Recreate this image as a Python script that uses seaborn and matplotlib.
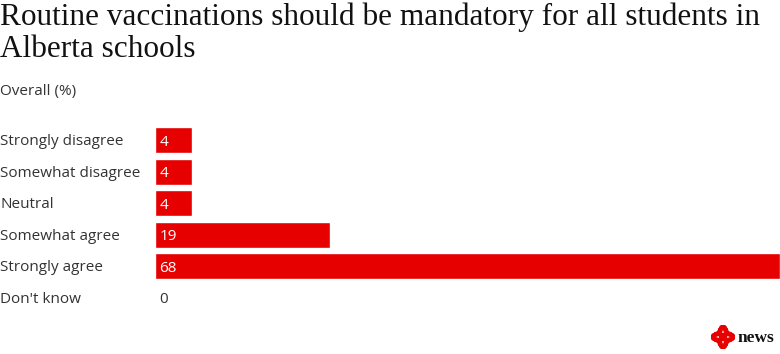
import matplotlib
matplotlib.use("Agg")
import matplotlib.pyplot as plt
import matplotlib.transforms as mtransforms
from matplotlib.patches import Circle, Wedge
import pandas as pd
import seaborn as sns

categories = ["Strongly disagree", "Somewhat disagree", "Neutral",
              "Somewhat agree", "Strongly agree", "Don't know"]
values = [4, 4, 4, 19, 68, 0]

df = pd.DataFrame({"answer": categories, "pct": values})

sns.set_theme(style="white")
plt.rcParams["font.family"] = ["Open Sans", "DejaVu Sans"]

red = "#e60000"
text_col = "#333333"

fig = plt.figure(figsize=(7.8, 3.54), dpi=100)
ax = fig.add_axes([155 / 780, 1 - 313.5 / 354, 625 / 780, 189 / 354])

sns.barplot(data=df, x="pct", y="answer", orient="h", color=red,
            saturation=1, width=0.84, ax=ax)
ax.set_xlim(0, max(values))
ax.set_xlabel("")
ax.set_ylabel("")
ax.set_xticks([])
ax.set_yticks([])
sns.despine(ax=ax, left=True, bottom=True)

# category names flush left on the figure
trans = mtransforms.blended_transform_factory(fig.transFigure, ax.transData)
for i, (cat, v) in enumerate(zip(categories, values)):
    fig.text(0.0, i + 0.04, cat, transform=trans, ha="left", va="center",
             fontsize=11, color=text_col)
    ax.annotate(str(v), (0, i + 0.06), xytext=(3, 0), textcoords="offset points",
                ha="left", va="center", fontsize=11,
                color="white" if v > 0 else text_col)

fig.text(0.0, 1 - 2 / 354, "Routine vaccinations should be mandatory for all students in\nAlberta schools",
         ha="left", va="top", fontsize=22.5, family="Liberation Serif",
         color="#111111", linespacing=1.16)
fig.text(0.0, 1 - 91 / 354, "Overall (%)", ha="left", va="center",
         fontsize=11, color=text_col)

# CBC gem + news wordmark
lax = fig.add_axes([711 / 780, 1 - 349 / 354, 24 / 780, 24 / 354])
lax.set_xlim(-1, 1)
lax.set_ylim(-1, 1)
lax.set_aspect("equal")
lax.axis("off")
r = 0.3
lax.add_patch(Circle((0, 0), r, color=red))
for ang, (cx, cy) in zip([0, 90, 180, 270], [(0, 0.68), (-0.68, 0), (0, -0.68), (0.68, 0)]):
    lax.add_patch(Wedge((cx, cy), r, ang, ang + 180, color=red))
for ang, (cx, cy) in zip([180, 270, 0, 90], [(0.68, 0.68), (-0.68, 0.68), (-0.68, -0.68), (0.68, -0.68)]):
    lax.add_patch(Wedge((cx, cy), 0.62, ang, ang + 90, width=0.3, color=red))
fig.text(738 / 780, 1 - 338 / 354, "news", ha="left", va="center",
         fontsize=12.5, family="Liberation Serif", weight="bold", color="#111111")

fig.savefig("out.png", dpi=100)
